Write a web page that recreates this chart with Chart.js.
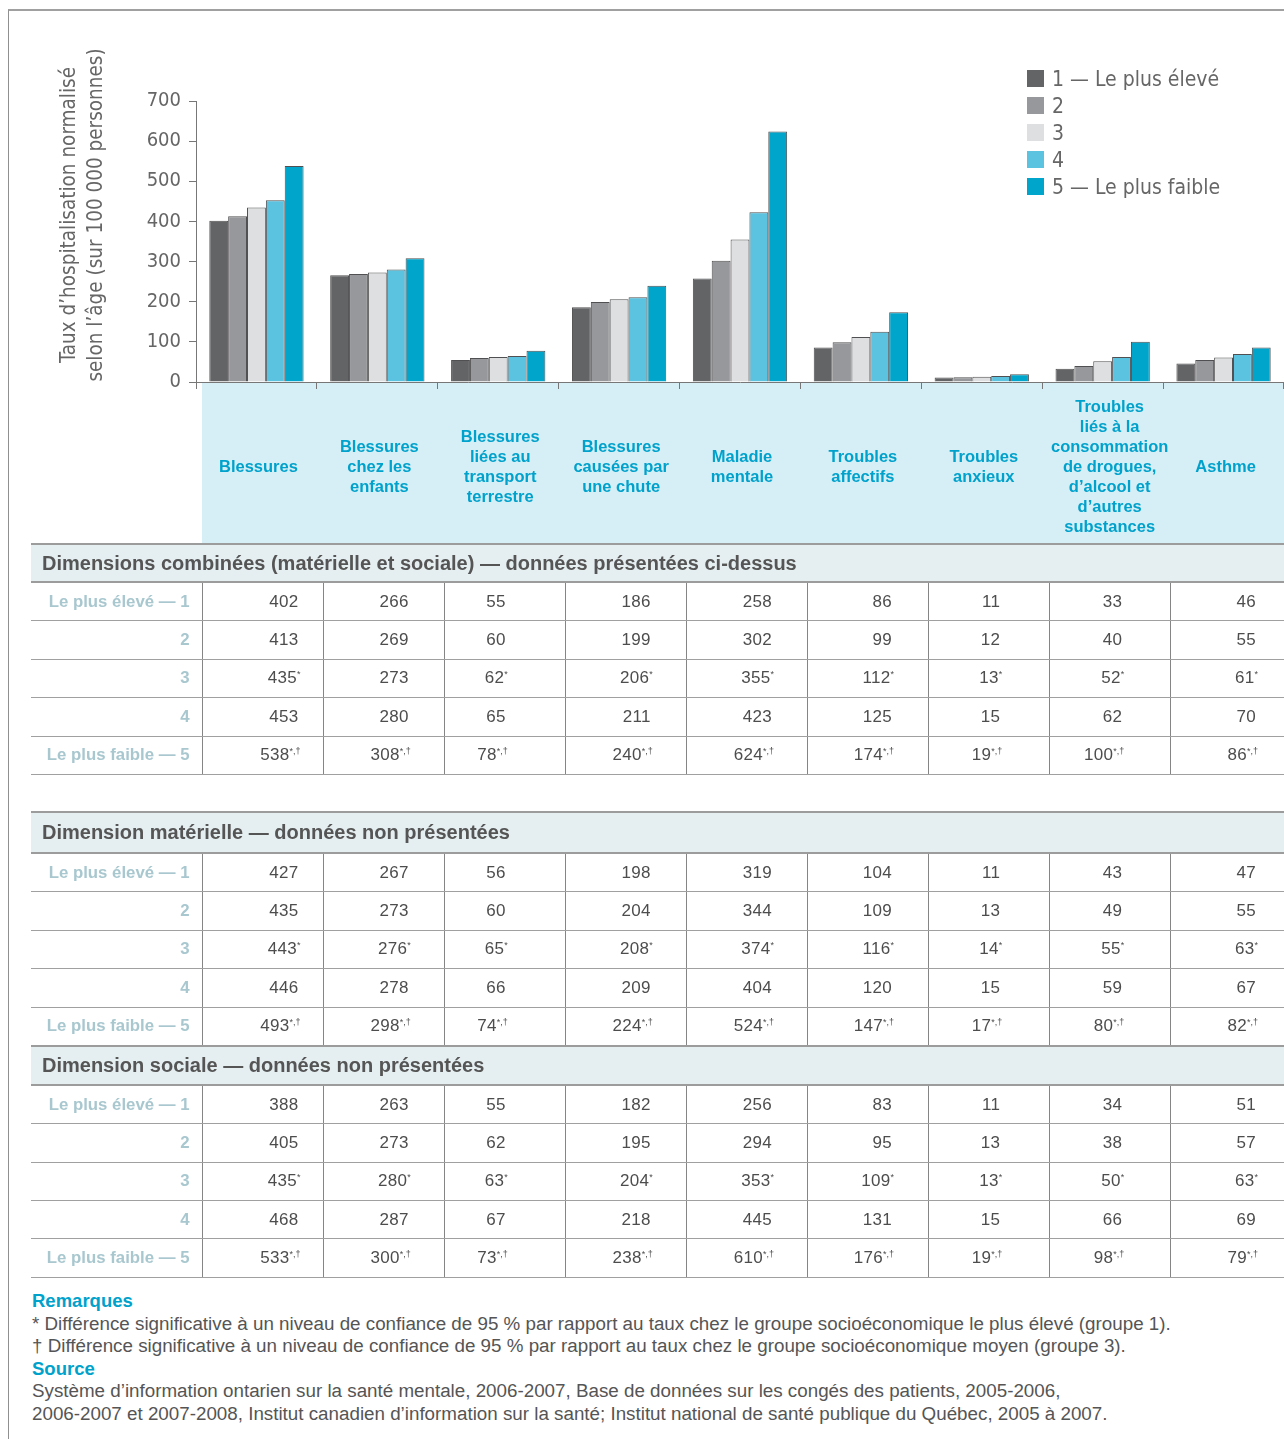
<!DOCTYPE html>
<html lang="fr">
<head>
<meta charset="utf-8">
<title>Taux d'hospitalisation selon le groupe socioéconomique</title>
<script src="https://cdn.jsdelivr.net/npm/chart.js@4.4.1/dist/chart.umd.min.js"></script>
<style>
  html, body { margin: 0; padding: 0; background: #fff; overflow: hidden; }
  body { width: 1284px; height: 1439px; position: relative; font-family: 'Liberation Sans', Arial, sans-serif; }
  #frame { position: absolute; left: 8px; top: 9px; right: -10px; bottom: -10px; border-top: 2px solid #a0a0a0; border-left: 1px solid #909090; }
  #chart { position: absolute; left: 0; top: 0; }
  #legend { position: absolute; left: 1027px; top: 65px; font-family: 'Liberation Sans Narrow', 'DejaVu Sans Condensed', sans-serif; font-size: 21px; color: #666; }
  #legend .item { height: 27px; display: flex; align-items: center; }
  #legend .box { width: 17px; height: 17px; margin-right: 8px; }
  table { position: absolute; left: 31px; top: 543px; border-collapse: collapse; table-layout: fixed; width: 1261px; }
  td { padding: 0; font-size: 17px; letter-spacing: 0.3px; color: #4d4d4d; text-align: right; white-space: nowrap; }
  tr.head td { background: #e5eef1; color: #555; font-weight: bold; font-size: 20px; letter-spacing: 0; text-align: left; padding-left: 11px; border-top: 2px solid #9c9c9c; border-bottom: 2px solid #9c9c9c; }
  tr.row td { height: 37.4px; border-bottom: 1.5px solid #a0a0a0; border-left: 1.5px solid #858585; }
  tr.row td.lab { border-left: none; font-weight: bold; font-size: 16.8px; letter-spacing: 0; color: #a8c7cf; padding-right: 12px; }
  tr.gap td { height: 36px; }
  sup { font-size: 9px; letter-spacing: 0; vertical-align: 6px; line-height: 0; }
  #notes { position: absolute; left: 32px; top: 1290px; font-size: 18.8px; line-height: 22.5px; color: #555; white-space: nowrap; }
  #notes .t { color: #00a2cc; font-weight: bold; font-size: 18.5px; }
</style>
</head>
<body>
<div id="frame"></div>
<canvas id="chart" width="1284" height="545"></canvas>
<div id="legend"></div>
<table id="tabela"></table>
<div id="notes">
  <div class="t">Remarques</div>
  <div>* Différence significative à un niveau de confiance de 95 % par rapport au taux chez le groupe socioéconomique le plus élevé (groupe 1).</div>
  <div>† Différence significative à un niveau de confiance de 95 % par rapport au taux chez le groupe socioéconomique moyen (groupe 3).</div>
  <div class="t">Source</div>
  <div>Système d’information ontarien sur la santé mentale, 2006-2007, Base de données sur les congés des patients, 2005-2006,</div>
  <div>2006-2007 et 2007-2008, Institut canadien d’information sur la santé; Institut national de santé publique du Québec, 2005 à 2007.</div>
</div>
<script>
const categories = [
    ["Blessures"],
    ["Blessures", "chez les", "enfants"],
    ["Blessures", "liées au", "transport", "terrestre"],
    ["Blessures", "causées par", "une chute"],
    ["Maladie", "mentale"],
    ["Troubles", "affectifs"],
    ["Troubles", "anxieux"],
    ["Troubles", "liés à la", "consommation", "de drogues,", "d’alcool et", "d’autres", "substances"],
    ["Asthme"]
];
const groupes = ["1 — Le plus élevé", "2", "3", "4", "5 — Le plus faible"];
const lignes = ["Le plus élevé — 1", "2", "3", "4", "Le plus faible — 5"];
const cores = ["#636466", "#97989b", "#dedfe0", "#5bc2df", "#00a5cb"];
const yTicks = [0, 100, 200, 300, 400, 500, 600, 700];
const yTitre = ["Taux d’hospitalisation normalisé", "selon l’âge (sur 100 000 personnes)"];

// Dimensions combinées (présentées dans le graphique)
const combinees = [
    [402, 266, 55, 186, 258, 86, 11, 33, 46],
    [413, 269, 60, 199, 302, 99, 12, 40, 55],
    [435, 273, 62, 206, 355, 112, 13, 52, 61],
    [453, 280, 65, 211, 423, 125, 15, 62, 70],
    [538, 308, 78, 240, 624, 174, 19, 100, 86]
];
const materielle = [
    [427, 267, 56, 198, 319, 104, 11, 43, 47],
    [435, 273, 60, 204, 344, 109, 13, 49, 55],
    [443, 276, 65, 208, 374, 116, 14, 55, 63],
    [446, 278, 66, 209, 404, 120, 15, 59, 67],
    [493, 298, 74, 224, 524, 147, 17, 80, 82]
];
const sociale = [
    [388, 263, 55, 182, 256, 83, 11, 34, 51],
    [405, 273, 62, 195, 294, 95, 13, 38, 57],
    [435, 280, 63, 204, 353, 109, 13, 50, 63],
    [468, 287, 67, 218, 445, 131, 15, 66, 69],
    [533, 300, 73, 238, 610, 176, 19, 98, 79]
];
// notes de signification par ligne (* et †)
const marques = ["", "", "*", "", "*,†"];
const combineesSansMarque = [[2, 1]]; // 273 sans astérisque

const NARROW = "'Liberation Sans Narrow', 'DejaVu Sans Condensed', sans-serif";
const SANS = "'Liberation Sans', Arial, sans-serif";

const bandePlugin = {
    id: "bande",
    beforeDraw(chart) {
        const ctx = chart.ctx;
        const area = chart.chartArea;
        ctx.save();
        ctx.fillStyle = "#d6eef5";
        ctx.fillRect(202, area.bottom + 1, chart.width - 202, 160);
        ctx.restore();
    },
    afterDraw(chart) {
        const ctx = chart.ctx;
        const x = chart.scales.x;
        ctx.save();
        ctx.fillStyle = "#00a2cc";
        ctx.font = "bold 16.5px " + SANS;
        ctx.textAlign = "center";
        ctx.textBaseline = "middle";
        categories.forEach((linhas, i) => {
            const cx = x.getPixelForValue(i) + (linhas.length > 5 ? 7 : 2);
            const y0 = 467 - (linhas.length - 1) * 10;
            linhas.forEach((t, j) => ctx.fillText(t, cx, y0 + j * 20));
        });
        // titre de l'axe y
        ctx.fillStyle = "#666";
        ctx.font = "20.5px " + NARROW;
        [70, 97].forEach((px, j) => {
            ctx.save();
            ctx.translate(px, 215);
            ctx.rotate(-Math.PI / 2);
            ctx.fillText(yTitre[j], 0, 0);
            ctx.restore();
        });
        ctx.restore();
    }
};

const ctx = document.getElementById("chart").getContext("2d");
const chart = new Chart(ctx, {
    type: "bar",
    data: {
        labels: categories,
        datasets: groupes.map((g, i) => ({
            label: g,
            data: combinees[i],
            backgroundColor: cores[i],
            borderColor: "#505052",
            borderWidth: 1,
            barPercentage: 1,
            categoryPercentage: 0.78
        }))
    },
    options: {
        responsive: false,
        animation: false,
        layout: { padding: { top: 101, left: 0, right: 0, bottom: 2 } },
        plugins: { legend: { display: false }, tooltip: { enabled: false } },
        scales: {
            x: {
                grid: { drawOnChartArea: false, tickLength: 7, color: "#777" },
                border: { color: "#777" },
                ticks: { display: false },
                afterFit(scale) { scale.height = 161; }
            },
            y: {
                min: 0,
                max: 700,
                afterBuildTicks(scale) { scale.ticks = yTicks.map(v => ({ value: v })); },
                grid: { drawOnChartArea: false, tickLength: 7, color: "#777" },
                border: { color: "#777" },
                ticks: { color: "#666", padding: 8, font: { family: NARROW, size: 20 } },
                afterFit(scale) { scale.width = 196; }
            }
        }
    },
    plugins: [bandePlugin]
});

// légende
const legenda = document.getElementById("legend");
chart.data.datasets.forEach(ds => {
    legenda.innerHTML += `<div class="item"><span class="box" style="background:${ds.backgroundColor}"></span>${ds.label}</div>`;
});

// tableau
const padCol = [24, 35, 59, 35, 35, 36, 49, 48, 36];
function celula(v, r, c, semMarque) {
    let m = marques[r];
    if (semMarque && semMarque.some(p => p[0] === r && p[1] === c)) m = "";
    return `<td style="padding-right:${padCol[c] - (m ? 2 : 0)}px">${v}${m ? `<sup>${m}</sup>` : ""}</td>`;
}
function bloco(titulo, dados, semMarque, alturaTitulo) {
    let html = `<tr class="head"><td colspan="10" style="height:${alturaTitulo}px">${titulo}</td></tr>`;
    dados.forEach((linha, r) => {
        html += `<tr class="row"><td class="lab">${lignes[r]}</td>`;
        linha.forEach((v, c) => html += celula(v, r, c, semMarque));
        html += "</tr>";
    });
    return html;
}
const tabela = document.getElementById("tabela");
let html = "<colgroup><col style=\"width:171px\">" + "<col style=\"width:121.1px\">".repeat(9) + "</colgroup>";
html += bloco("Dimensions combinées (matérielle et sociale) — données présentées ci-dessus", combinees, combineesSansMarque, 36);
html += '<tr class="gap"><td colspan="10"></td></tr>';
html += bloco("Dimension matérielle — données non présentées", materielle, null, 39);
html += bloco("Dimension sociale — données non présentées", sociale, null, 37);
tabela.innerHTML = html;
</script>
</body>
</html>
